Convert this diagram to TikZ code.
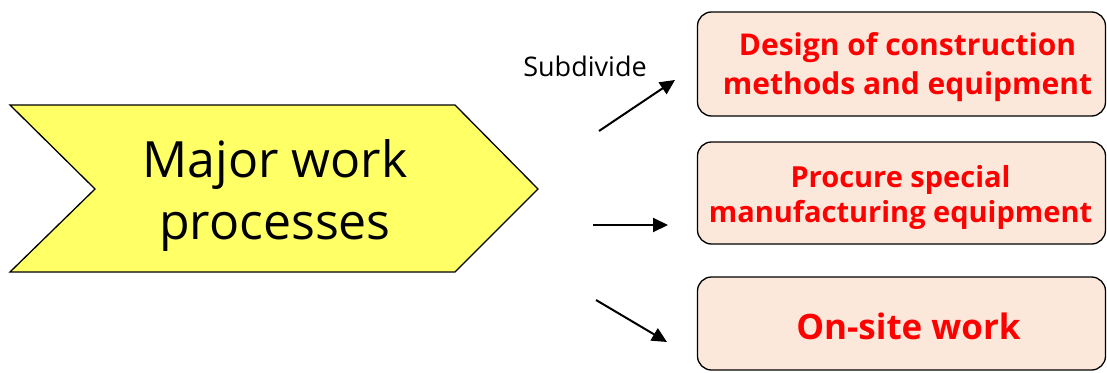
\documentclass[tikz,border=0pt]{standalone}
\usepackage{fontspec}
\setmainfont{Open Sans}
\usetikzlibrary{arrows.meta,positioning}
\definecolor{peach}{RGB}{252,232,218}
\definecolor{lemon}{RGB}{255,255,102}
\tikzstyle{task}=[draw=black,fill=peach,rounded corners=14pt,line width=1.3pt,text=red,font=\bfseries,align=center,minimum width=408pt,inner sep=0pt]
\newcommand{\taskbox}[3]{\node[task,minimum height=#3] (#1) at (901.5,#2) {};}
\newcommand{\push}[2]{\draw[-{Triangle[length=15pt,width=14pt]},line width=2pt] (#1) -- (#2);}
\tikzset{
	label text/.style={font=\fontsize{27}{30}\selectfont}
}

\begin{document}
\begin{tikzpicture}[x=1pt,y=-1pt]
    \useasboundingbox (0,0) rectangle (1107,372);

    % chevron
    \draw[fill=lemon,line width=1.3pt] (10,105) -- (455,105) -- (538,189) -- (455,272) -- (10,272) -- (95,189) -- cycle;
    \node[font=\fontsize{50}{62}\selectfont,align=center] (major) at (275,196) {Major work\\processes};

    % the three parts
    \taskbox{design}{64}{104pt}
    \taskbox{procure}{193}{102pt}
    \taskbox{onsite}{323.5}{93pt}
    \node[text=red,font=\bfseries\fontsize{30}{39}\selectfont,align=center] (designtext) at ([xshift=6pt,yshift=-3pt]design.center) {Design of construction\\methods and equipment};
    \node[text=red,font=\bfseries\fontsize{29}{35}\selectfont,align=center] (procuretext) at ([xshift=-1pt,yshift=-4pt]procure.center) {Procure special\\manufacturing equipment};
    \node[text=red,font=\bfseries\fontsize{35}{40}\selectfont] (onsitetext) at ([xshift=7pt,yshift=-3pt]onsite.center) {On-site work};

    \node[label text] (subdivide) at (585,66) {Subdivide};

    % arrows
    \coordinate (a1) at (599,131);
    \coordinate (b1) at (675,80);
    \coordinate (a2) at (593,225);
    \coordinate (b2) at (668,225);
    \coordinate (a3) at (596,300);
    \coordinate (b3) at (667,342);
    \push{a1}{b1}
    \push{a2}{b2}
    \push{a3}{b3}
\end{tikzpicture}
\end{document}
